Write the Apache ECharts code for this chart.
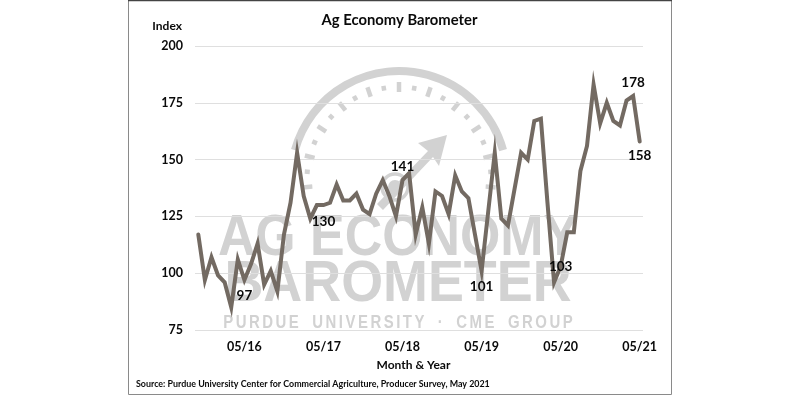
<!DOCTYPE html>
<html><head><meta charset="utf-8">
<style>html,body{margin:0;padding:0;background:#fff}#c{width:800px;height:400px}</style>
<script src="https://cdn.jsdelivr.net/npm/echarts@6/dist/echarts.min.js"></script>
</head><body><div id="c"></div>
<script>
const months = ['10/15','11/15','12/15','01/16','02/16','03/16','04/16','05/16','06/16','07/16','08/16','09/16','10/16','11/16','12/16','01/17','02/17','03/17','04/17','05/17','06/17','07/17','08/17','09/17','10/17','11/17','12/17','01/18','02/18','03/18','04/18','05/18','06/18','07/18','08/18','09/18','10/18','11/18','12/18','01/19','02/19','03/19','04/19','05/19','06/19','07/19','08/19','09/19','10/19','11/19','12/19','01/20','02/20','03/20','04/20','05/20','06/20','07/20','08/20','09/20','10/20','11/20','12/20','01/21','02/21','03/21','04/21','05/21'];
const barometer = [117,97,107,99,96,85,106,97,104,113,95,101,92,117,131,153,134,124,130,130,131,139,132,132,135,128,126,135,141,134,125,141,144,117,129,113,136,134,126,143,136,133,117,101,127,153,124,121,137,153,150,167,168,131,96,103,118,118,145,156,183,166,175,167,165,176,178,158];
const shownTicks = ['05/16','05/17','05/18','05/19','05/20','05/21'];
const yTicks = [75,100,125,150,175,200];
const calloutMonths = ['05/16','05/17','05/18','05/19','05/20','04/21','05/21'];
const calloutText = ['97','130','141','101','103','178','158'];

const FONT = 'Lato, "Open Sans", sans-serif';
const WM = '#d2d2d2';
const TEXT = '#0a0a0a';
const placement = {
  '97':{position:'bottom',distance:8},
  '130':{position:'bottom',distance:9},
  '141':{position:'top',distance:6},
  '101':{position:'bottom',distance:8},
  '103':{position:'inside'},
  '178':{position:'top',distance:6},
  '158':{position:'bottom',distance:7}
};
const seriesData = barometer.map((v,i)=>{
  const k = calloutMonths.indexOf(months[i]);
  if(k<0) return {value:v,symbol:'none'};
  const t = calloutText[k];
  return {value:v,symbol:'circle',symbolSize:1,itemStyle:{color:'rgba(0,0,0,0)'},
    label:Object.assign({show:true,formatter:t,fontFamily:FONT,fontWeight:'bold',fontSize:13.5,color:TEXT},placement[t])};
});

// Watermark (decorative logo behind the plot)
const wm = [];
const cx=399, cy=179;
wm.push({type:'arc',z:-1,silent:true,shape:{cx,cy,r:108,startAngle:(180+15.5)*Math.PI/180,endAngle:(360-15.5)*Math.PI/180,clockwise:true},style:{fill:null,stroke:WM,lineWidth:8}});
for(let i=-10;i<=10;i++){
  const long = i%2===0;
  const a=i*9.5*Math.PI/180, r=92, dr=long?5:2.5, w=4.5;
  wm.push({type:'line',z:-1,silent:true,shape:{x1:cx+(r-dr)*Math.sin(a),y1:cy-(r-dr)*Math.cos(a),x2:cx+(r+dr)*Math.sin(a),y2:cy-(r+dr)*Math.cos(a)},style:{stroke:WM,lineWidth:w}});
}
wm.push({type:'polygon',z:-1,silent:true,shape:{points:[[447,135],[418,143],[428,151],[377,204],[383,210],[433,157],[439,166]]},style:{fill:WM}});
wm.push({type:'circle',z:-1,silent:true,shape:{cx:395,cy:187,r:13},style:{fill:null,stroke:WM,lineWidth:3.5}});
wm.push({type:'circle',z:-1,silent:true,shape:{cx:395,cy:187,r:7},style:{fill:WM}});
const wmText=(t,x,y,size,sx)=>({type:'text',z:-1,silent:true,x,y,scaleX:sx,style:{text:t,x:0,y:0,fill:WM,font:'bold '+size+'px "Liberation Sans", sans-serif',textAlign:'center',textVerticalAlign:'middle'}});
wm.push(wmText('AG ECONOMY',398,239,57,0.91));
wm.push(wmText('BAROMETER',398,285,57,0.945));
wm.push(wmText('PURDUE\u2009\u2009UNIVERSITY\u2009\u2009\u00b7\u2009\u2009CME\u2009\u2009GROUP'.split('').join('\u200a\u200a'),398,323,18,0.83));

// Frame
wm.push({type:'rect',z:-1,silent:true,shape:{x:128.5,y:0.5,width:543,height:394},style:{fill:null,stroke:'#8a8a8a',lineWidth:1}});
wm.push({type:'line',z:-1,silent:true,shape:{x1:128,y1:0.5,x2:672,y2:0.5},style:{stroke:'#444',lineWidth:1.5}});

const chart = echarts.init(document.getElementById('c'),null,{renderer:'canvas'});
chart.setOption({
  animation:false,
  backgroundColor:'#fff',
  title:[
    {text:'Ag Economy Barometer',left:394.5,top:8,textAlign:'center',textStyle:{fontFamily:FONT,fontWeight:'bold',fontSize:14.8,color:TEXT}},
    {text:'Source: Purdue University Center for Commercial Agriculture, Producer Survey, May 2021',left:131,top:375,textStyle:{fontFamily:FONT,fontWeight:'bold',fontSize:8.9,color:TEXT}}
  ],
  grid:{left:195,right:157,top:46,bottom:70,containLabel:false},
  xAxis:{
    type:'category',data:months,boundaryGap:true,
    name:'Month & Year',nameLocation:'middle',nameGap:29,
    nameTextStyle:{fontFamily:FONT,fontWeight:'bold',fontSize:12,color:TEXT,padding:[0,11,0,0]},
    axisLine:{show:false},axisTick:{show:false},
    axisLabel:{interval:(i,v)=>shownTicks.includes(v),formatter:v=>v,margin:10,hideOverlap:false,fontFamily:FONT,fontWeight:'bold',fontSize:12.5,color:TEXT},
    splitLine:{show:false}
  },
  yAxis:{
    type:'value',min:yTicks[0],max:yTicks[yTicks.length-1],interval:25,
    name:'Index',nameLocation:'end',nameGap:14,
    nameTextStyle:{fontFamily:FONT,fontWeight:'bold',fontSize:12,color:TEXT,align:'right',padding:[0,13,0,0]},
    axisLine:{show:false},axisTick:{show:false},
    axisLabel:{margin:12,fontFamily:FONT,fontWeight:'bold',fontSize:12.5,color:TEXT},
    splitLine:{show:true,lineStyle:{color:'#dfdfdf',width:1}}
  },
  series:[{
    type:'line',data:seriesData,showSymbol:true,showAllSymbol:true,
    lineStyle:{color:'#736a62',width:4,join:'miter',cap:'round'},
    labelLayout:{hideOverlap:false},
    emphasis:{disabled:true}
  }],
  graphic:{elements:wm}
});
</script></body></html>
